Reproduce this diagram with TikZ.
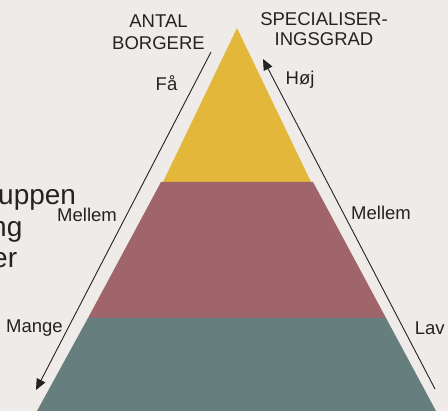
\documentclass[tikz,border=0pt]{standalone}
\usepackage{fontspec}
\setmainfont{Liberation Sans}
\usetikzlibrary{arrows.meta}
\definecolor{bg}{HTML}{EEEBE8}
\definecolor{pyrYellow}{HTML}{E3B73A}
\definecolor{pyrRed}{HTML}{A0656A}
\definecolor{pyrTeal}{HTML}{667F7E}
\definecolor{ink}{HTML}{232323}
\tikzset{
  lbl/.style={inner sep=0pt, text=ink, font=\fontsize{18.5}{22}\selectfont},
  bigtxt/.style={inner sep=0pt, text=ink, font=\fontsize{28}{32}\selectfont},
  axisarrow/.style={draw=ink, line width=0.9pt, -{Triangle[length=11pt,width=9.5pt]}},
}
\begin{document}
\begin{tikzpicture}[x=1pt,y=-1pt]
\fill[bg] (0,0) rectangle (448,411);
\useasboundingbox (0,0) rectangle (448,411);
\clip (0,0) rectangle (448,411);

% pyramid layers
\fill[pyrYellow] (237,28) -- (311,182) -- (163,182) -- cycle;
\fill[pyrRed] (161,182) -- (313,182) -- (386,318) -- (88,318) -- cycle;
\fill[pyrTeal] (88,318) -- (386,318) -- (436,411) -- (37,411) -- cycle;

% clipped side text
\node[bigtxt, anchor=base west] (side1) at (-2,205) {uppen};
\node[bigtxt, anchor=base west] (side2) at (-9,237) {ng};
\node[bigtxt, anchor=base west] (side3) at (-8,268) {er};

% headings
\node[lbl, anchor=base] (antal1) at (158.5,27.7) {ANTAL};
\node[lbl, anchor=base] (antal2) at (158.5,49.3) {BORGERE};
\node[lbl, anchor=base] (spec1) at (324,25.7) {SPECIALISER-};
\node[lbl, anchor=base] (spec2) at (324,45.7) {INGSGRAD};

% arrows
\coordinate (lTop) at (211,52);
\coordinate (lBot) at (36,390);
\coordinate (rBot) at (435,389);
\coordinate (rTop) at (263,59);
\draw[axisarrow] (lTop) -- (lBot);
\draw[axisarrow] (rBot) -- (rTop);

% scale labels
\node[lbl, anchor=base west] (fa) at (155.5,90.7) {Få};
\node[lbl, anchor=base west] (hoej) at (285.5,85) {Høj};
\node[lbl, anchor=base west] (mellemL) at (57,221.7) {Mellem};
\node[lbl, anchor=base west] (mellemR) at (351,219.3) {Mellem};
\node[lbl, anchor=base west] (mange) at (6,333) {Mange};
\node[lbl, anchor=base west] (lav) at (414.6,335) {Lav};
\end{tikzpicture}
\end{document}
